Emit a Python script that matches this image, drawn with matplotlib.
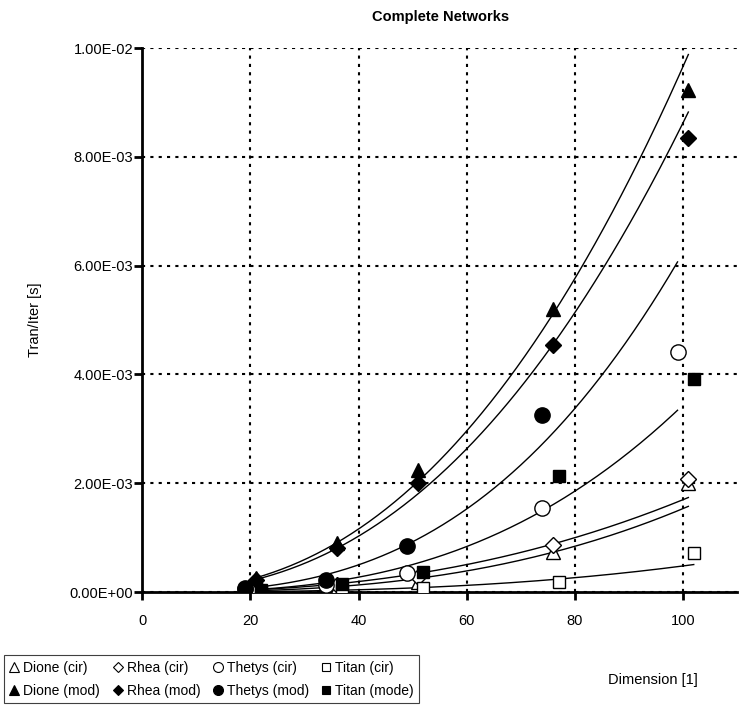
import numpy as np
import matplotlib.pyplot as plt
from matplotlib.lines import Line2D
from matplotlib.ticker import FuncFormatter

plt.rcParams['font.family'] = ['Liberation Sans', 'DejaVu Sans']
plt.rcParams['font.size'] = 10

# dimension de cada red
dim_dione = [21, 36, 51, 76, 101]
dim_rhea = [21, 36, 51, 76, 101]
dim_thetys = [19, 34, 49, 74, 99]
dim_titan = [22, 37, 52, 77, 102]

# tiempo por iteracion [s]
dione_cir = [3.0e-05, 8.0e-05, 1.8e-04, 7.4e-04, 2.01e-03]
dione_mod = [2.5e-04, 9.0e-04, 2.25e-03, 5.20e-03, 9.23e-03]
rhea_cir = [5.0e-05, 1.3e-04, 2.8e-04, 8.7e-04, 2.07e-03]
rhea_mod = [2.2e-04, 8.0e-04, 2.01e-03, 4.54e-03, 8.34e-03]
thetys_cir = [5.0e-05, 1.2e-04, 3.5e-04, 1.55e-03, 4.41e-03]
thetys_mod = [8.0e-05, 2.2e-04, 8.5e-04, 3.25e-03, np.nan]
titan_cir = [1.0e-05, 3.0e-05, 7.0e-05, 1.8e-04, 7.2e-04]
titan_mod = [4.0e-05, 1.5e-04, 3.7e-04, 2.14e-03, 3.91e-03]


def ajuste_potencia(x, y):
    # linea de tendencia tipo potencia y = a*x^b
    x = np.array(x, dtype=float)
    y = np.array(y, dtype=float)
    ok = ~np.isnan(y)
    b, a = np.polyfit(np.log(x[ok]), np.log(y[ok]), 1)
    xs = np.linspace(x.min(), x.max(), 200)
    return xs, np.exp(a) * xs ** b


fig = plt.figure(figsize=(7.51, 7.09), dpi=100)
ax = fig.add_axes([142.3 / 751, 117 / 709, 594.7 / 751, 544 / 709])

# (x, y, marcador, relleno, tamaño, tendencia, nombre)
series = [
    (dim_dione, dione_cir, "^", "white", 10, True, "Dione (cir)"),
    (dim_dione, dione_mod, "^", "black", 10, True, "Dione (mod)"),
    (dim_rhea, rhea_cir, "D", "white", 8, True, "Rhea (cir)"),
    (dim_rhea, rhea_mod, "D", "black", 8, True, "Rhea (mod)"),
    (dim_thetys, thetys_cir, "o", "white", 11, True, "Thetys (cir)"),
    (dim_thetys, thetys_mod, "o", "black", 11, True, "Thetys (mod)"),
    (dim_titan, titan_cir, "s", "white", 9, True, "Titan (cir)"),
    (dim_titan, titan_mod, "s", "black", 9, False, "Titan (mode)"),
]

for x, y, m, fc, ms, tend, nombre in series:
    if tend:
        xs, ys = ajuste_potencia(x, y)
        ax.plot(xs, ys, color="black", linewidth=1.0, zorder=3)

for x, y, m, fc, ms, tend, nombre in series:
    ax.plot(x, y, linestyle="none", marker=m, markersize=ms, markerfacecolor=fc,
            markeredgecolor="black", markeredgewidth=1.0, zorder=4)

ax.set_xlim(0, 110)
ax.set_ylim(0, 0.01)
ax.set_xticks([0, 20, 40, 60, 80, 100])
ax.set_yticks([0, 0.002, 0.004, 0.006, 0.008, 0.010])
ax.yaxis.set_major_formatter(FuncFormatter(lambda v, p: f"{v:.2E}"))

ax.grid(True, color="black", linestyle=(0, (1.5, 2.5)), linewidth=1.5)
ax.set_axisbelow(True)
for lado in ["top", "right"]:
    ax.spines[lado].set_visible(False)
for lado in ["left", "bottom"]:
    ax.spines[lado].set_linewidth(2)
ax.tick_params(axis="y", direction="out", length=6, width=2, pad=0.5, labelsize=10.5)
ax.tick_params(axis="x", direction="out", length=6, width=2, pad=10, labelsize=10.5)

fig.text(441 / 751, 1 - 17 / 709, "Complete Networks", ha="center", va="center",
         fontweight="bold", fontsize=10.5)
fig.text(35 / 751, 1 - 320 / 709, "Tran/Iter [s]", ha="center", va="center",
         rotation=90, fontsize=10.5)
fig.text(653 / 751, 1 - 680 / 709, "Dimension [1]", ha="center", va="center", fontsize=10.5)

# leyenda con marcadores pequeños
handles = []
for x, y, m, fc, ms, tend, nombre in series:
    handles.append(Line2D([], [], linestyle="none", marker=m, markersize=ms * 0.65,
                          markerfacecolor=fc, markeredgecolor="black",
                          markeredgewidth=0.8, label=nombre))
leg = fig.legend(handles=handles, ncol=4, loc="upper left",
                 bbox_to_anchor=(4 / 751, 1 - 655 / 709), borderaxespad=0,
                 fancybox=False, edgecolor="#404040", framealpha=1,
                 handlelength=0.7, handletextpad=0.3, columnspacing=0.9,
                 labelspacing=0.65, borderpad=0.4, fontsize=10)
leg.get_frame().set_linewidth(0.8)

plt.savefig("out.png", dpi=100)
